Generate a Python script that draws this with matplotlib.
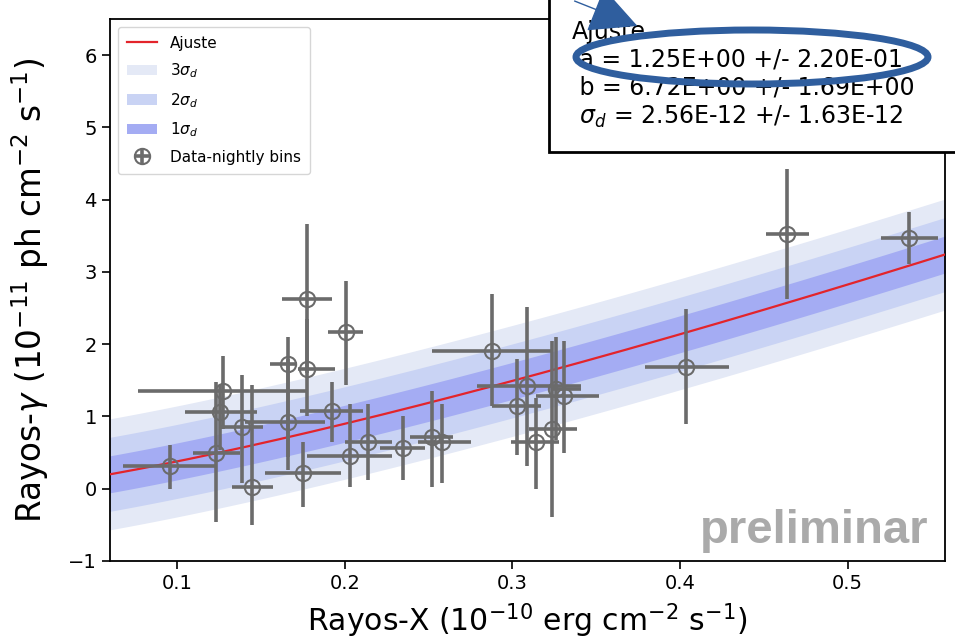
import numpy as np
import matplotlib
matplotlib.use("Agg")
import matplotlib.pyplot as plt
from matplotlib.patches import Rectangle, Ellipse, FancyArrowPatch

# nightly bins: centre, and lower / upper ends of the error bars
x_val = [0.0958, 0.1232, 0.1256, 0.1274, 0.1387, 0.1446, 0.1660, 0.1660, 0.1774, 0.1774,
         0.1750, 0.2006, 0.1923, 0.2030, 0.2137, 0.2345, 0.2518, 0.2583, 0.2881, 0.3030,
         0.3089, 0.3143, 0.3238, 0.3262, 0.3310, 0.4036, 0.4637, 0.5363]
x_lo = [0.0679, 0.1095, 0.1048, 0.0768, 0.1256, 0.1327, 0.1554, 0.1405, 0.1625, 0.1720,
        0.1524, 0.1900, 0.1732, 0.1774, 0.2000, 0.2208, 0.2387, 0.2435, 0.2518, 0.2881,
        0.2786, 0.2994, 0.3101, 0.3232, 0.3143, 0.3790, 0.4510, 0.5200]
x_hi = [0.1232, 0.1375, 0.1476, 0.1780, 0.1512, 0.1571, 0.1714, 0.1880, 0.1923, 0.1940,
        0.1980, 0.2107, 0.2107, 0.2280, 0.2280, 0.2476, 0.2643, 0.2756, 0.3238, 0.3173,
        0.3411, 0.3280, 0.3387, 0.3411, 0.3518, 0.4290, 0.4770, 0.5540]
y_val = [0.31, 0.50, 1.06, 1.35, 0.85, 0.03, 1.72, 0.92, 2.62, 1.65,
         0.22, 2.17, 1.07, 0.45, 0.64, 0.57, 0.72, 0.64, 1.90, 1.14,
         1.42, 0.64, 0.82, 1.38, 1.28, 1.68, 3.53, 3.47]
y_lo = [-0.01, -0.46, 0.54, 0.82, 0.08, -0.50, 0.44, 0.26, 1.60, 1.00,
        -0.25, 1.44, 0.65, 0.03, 0.12, 0.12, 0.03, 0.08, 1.14, 0.47,
        0.31, -0.01, -0.39, 0.68, 0.50, 0.89, 2.63, 3.11]
y_hi = [0.61, 1.47, 1.44, 1.83, 1.58, 1.44, 2.10, 1.79, 3.67, 2.35,
        0.65, 2.87, 1.47, 1.17, 1.17, 1.00, 1.35, 1.17, 2.69, 1.79,
        2.51, 1.26, 2.04, 2.10, 2.04, 2.49, 4.43, 3.83]

# fit y = b * x**a, intrinsic scatter sigma_d (in 1e-11 units)
fit_a = 1.25
fit_b = 6.72
sigma_d = 0.256
fit_text = ["Ajuste",
            " a = 1.25E+00 +/- 2.20E-01",
            " b = 6.72E+00 +/- 1.69E+00",
            r" $\sigma_d$ = 2.56E-12 +/- 1.63E-12"]

band_colors = ["#e4e9f6", "#c9d3f4", "#a4acf3"]
gray = "#6b6b6b"

x_val = np.array(x_val); y_val = np.array(y_val)
xerr = [x_val - np.array(x_lo), np.array(x_hi) - x_val]
yerr = [y_val - np.array(y_lo), np.array(y_hi) - y_val]

fig = plt.figure(figsize=(9.55, 6.44), dpi=100)
ax = fig.add_axes([0.1152, 0.1289, 0.8743, 0.8416])

xx = np.linspace(0.05, 0.57, 300)
model = fit_b * xx ** fit_a
for n, c in zip([3, 2, 1], band_colors):
    ax.fill_between(xx, model - n * sigma_d, model + n * sigma_d, color=c, lw=0,
                    label=r"$%d\sigma_d$" % n)
ax.plot(xx, model, color="#e3242b", lw=1.6, label="Ajuste", zorder=3)
ax.errorbar(x_val, y_val, xerr=xerr, yerr=yerr, fmt="o", color=gray, mfc="none",
            mec=gray, ms=11, mew=1.5, elinewidth=2.6, capsize=0, zorder=4,
            label="Data-nightly bins")

ax.set_xlim(0.06, 0.558)
ax.set_ylim(-1, 6.5)
ax.set_xticks([0.1, 0.2, 0.3, 0.4, 0.5])
ax.set_yticks(range(-1, 7))
ax.tick_params(labelsize=14, length=6, width=1.2)
for s in ax.spines.values():
    s.set_linewidth(1.3)
ax.set_xlabel(r"Rayos-X (10$^{-10}$ erg cm$^{-2}$ s$^{-1}$)", fontsize=21.5, labelpad=6)
ax.set_ylabel(r"Rayos-$\gamma$ (10$^{-11}$ ph cm$^{-2}$ s$^{-1}$)", fontsize=23.5, labelpad=12)

h, l = ax.get_legend_handles_labels()
order = [3, 0, 1, 2, 4]
ax.legend([h[i] for i in order], [l[i] for i in order], loc="upper left",
          fontsize=11, borderaxespad=0.5, handlelength=2.0, labelspacing=0.7,
          borderpad=0.6)

fig.text(928 / 955, 1 - 543 / 644, "preliminar", ha="right", va="baseline",
         fontsize=34, fontweight="bold", family="Liberation Sans", color="#aaaaaa")

# fit result box sticking out of the top right corner
fig.patches.append(Rectangle((549 / 955, 1 - 152 / 644), 0.5, 0.5,
                             transform=fig.transFigure, fc="white", ec="black",
                             lw=2, zorder=10))
fig.text(572 / 955, 1 - 20 / 644, "\n".join(fit_text), ha="left", va="top",
         fontsize=17, linespacing=1.2, zorder=11)
fig.patches.append(Ellipse((752 / 955, 1 - 57 / 644), 352 / 955, 54 / 644,
                           transform=fig.transFigure, fill=False, ec="#2f5e9e",
                           lw=5, zorder=12))
fig.patches.append(FancyArrowPatch((572 / 955, 1.0), (640 / 955, 1 - 27 / 644),
                                   transform=fig.transFigure, color="#2f5e9e",
                                   arrowstyle="-|>,head_length=2.2,head_width=1.1",
                                   lw=1, mutation_scale=14, zorder=12))

fig.savefig("out.png", dpi=100)
